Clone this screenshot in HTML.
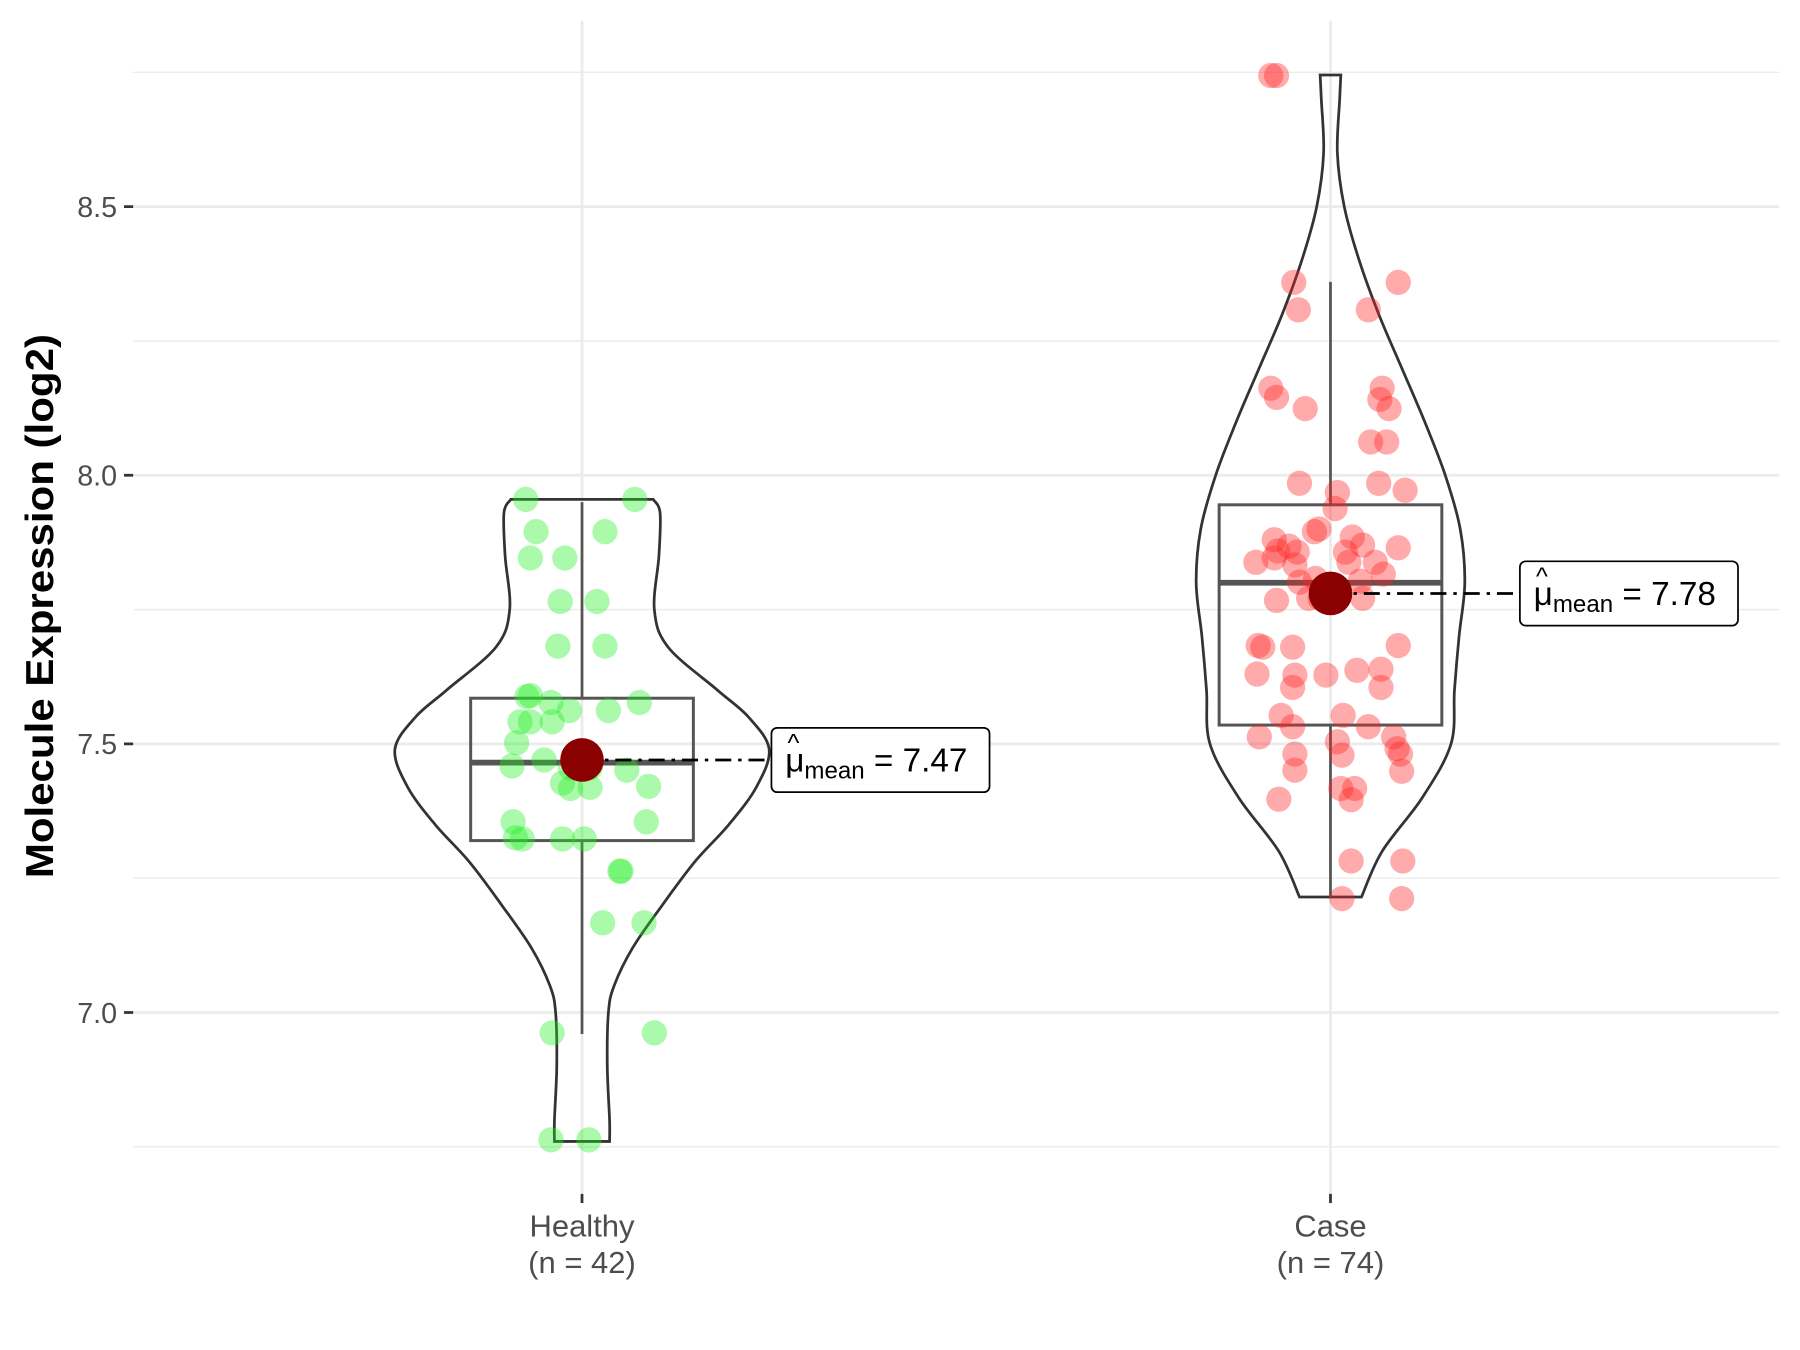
<!DOCTYPE html>
<html><head><meta charset="utf-8"><style>
html,body{margin:0;padding:0;background:#fff;}
svg{display:block;font-family:"Liberation Sans",sans-serif;}
</style></head><body>
<svg id="chart" width="1800" height="1350" viewBox="0 0 1568 1176" preserveAspectRatio="none" xmlns="http://www.w3.org/2000/svg">
<rect width="1568" height="1176" fill="#fff"/>
<g id="grid"></g>
<g id="marks"></g>
<text transform="translate(46,528) rotate(-90)" text-anchor="middle" font-size="34" font-weight="bold" fill="#000" textLength="474" lengthAdjust="spacingAndGlyphs">Molecule Expression (log2)</text>
</svg>
<script>
const categories = ["Healthy", "Case"];
const counts = [42, 74];
const means = [7.47, 7.78];
const yTicks = [7.0, 7.5, 8.0, 8.5];
const yMinor = [6.75, 7.25, 7.75, 8.25, 8.75];
const boxQ1 = [7.32, 7.535];
const boxMed = [7.465, 7.80];
const boxQ3 = [7.585, 7.945];
const whiskLo = [6.96, 7.215];
const whiskHi = [7.95, 8.36];
const healthyViolinY = [7.955,7.93,7.85,7.75,7.68,7.6,7.55,7.49,7.42,7.35,7.28,7.2,7.12,7.05,7.0,6.9,6.8,6.76];
const healthyViolinW = [62,68,67,63,75,118,145,163,152,128,98,70,44,28,23,22,24,24];
const caseViolinY = [8.745,8.7,8.6,8.5,8.4,8.3,8.2,8.1,8.0,7.9,7.8,7.7,7.6,7.5,7.4,7.3,7.215];
const caseViolinW = [9,8,6,12,25,42,62,82,100,113,117,112,108,105,80,45,27];
const healthyVals = [7.955,7.955,7.895,7.895,7.846,7.846,7.765,7.765,7.682,7.682,7.590,7.588,7.577,7.562,7.562,7.577,7.541,7.541,7.541,7.502,7.459,7.470,7.455,7.455,7.451,7.427,7.417,7.419,7.421,7.355,7.325,7.323,7.323,7.323,7.355,7.263,7.263,7.167,7.167,6.962,6.962,6.763,6.763];
const healthyJit = [-49,46,-40,20,-45,-15,-19,13,-21,20,-45,-48,-27,-11,23,50,-54,-45,-26,-57,-61,-33,-10,7,39,-17,-10,7,58,-60,-58,-52,-17,2,56,33,34,18,54,-26,63,-27,6];
const caseVals = [8.744,8.744,8.359,8.359,8.308,8.308,8.162,8.145,8.124,8.162,8.141,8.124,8.062,8.062,7.985,7.985,7.972,7.968,7.938,7.895,7.900,7.870,7.865,7.859,7.868,7.846,7.838,7.833,7.838,7.838,7.801,7.803,7.767,7.771,7.683,7.680,7.680,7.683,7.630,7.628,7.628,7.637,7.639,7.605,7.605,7.553,7.553,7.532,7.532,7.513,7.504,7.513,7.491,7.481,7.479,7.481,7.451,7.449,7.397,7.417,7.417,7.396,7.282,7.282,7.212,7.212,7.771,7.771,7.880,7.885,7.808,7.857,7.857,7.816];
const caseJit = [-52,-47,-32,59,-28,33,-52,-47,-22,45,43,51,35,49,-27,42,65,6,4,-14,-10,28,59,-46,-36,-49,-65,-31,16,39,-27,26,-47,-19,-63,-59,-33,59,-64,-31,-4,23,44,-33,44,-43,11,-33,33,-62,6,55,58,-31,10,61,-31,62,-45,9,21,18,18,63,10,62,-9,28,-49,19,-13,13,-29,46];

const NS="http://www.w3.org/2000/svg";
const X0=116,X1=1550;
function xPos(i){return [507,1159][i];}
function yPos(v){return 414-(v-8)*468;}
const grid=document.getElementById('grid'), marks=document.getElementById('marks');
function mk(tag,attrs,parent){const e=document.createElementNS(NS,tag);for(const k in attrs)e.setAttribute(k,attrs[k]);parent.appendChild(e);return e;}

yMinor.forEach(v=>{const l=mk('line',{x1:X0,x2:X1,y1:yPos(v),y2:yPos(v),stroke:'#ebebeb','stroke-width':1.2},grid);

});
yTicks.forEach(v=>{const l=mk('line',{x1:X0,x2:X1,y1:yPos(v),y2:yPos(v),stroke:'#ebebeb','stroke-width':2.4},grid);


const t=mk('line',{x1:108,x2:116,y1:yPos(v),y2:yPos(v),stroke:'#333','stroke-width':2.4},grid);


const tx=mk('text',{x:102,y:yPos(v)+9,'text-anchor':'end','font-size':25,fill:'#4d4d4d'},grid);tx.textContent=v.toFixed(1);

});
categories.forEach((c,i)=>{const x=xPos(i);
const l=mk('line',{x1:x,x2:x,y1:18,y2:1040,stroke:'#ebebeb','stroke-width':2.4},grid);


const t=mk('line',{x1:x,x2:x,y1:1040,y2:1048,stroke:'#333','stroke-width':2.4},grid);


const a=mk('text',{x:x,y:1077,'text-anchor':'middle','font-size':27,fill:'#4d4d4d'},grid);a.textContent=c;


const b=mk('text',{x:x,y:1109,'text-anchor':'middle','font-size':27,fill:'#4d4d4d'},grid);b.textContent='(n = '+counts[i]+')';

});

function violin(i,ys,ws){const x=xPos(i);let pts=[];
for(let k=0;k<ys.length;k++)pts.push([x+ws[k],yPos(ys[k])]);
for(let k=ys.length-1;k>=0;k--)pts.push([x-ws[k],yPos(ys[k])]);
let d='M'+pts[0][0]+','+pts[0][1];
const n=ys.length;
function seg(a,b,c,e){return ' C'+(b[0]+(c[0]-a[0])/6)+','+(b[1]+(c[1]-a[1])/6)+' '+(c[0]-(e[0]-b[0])/6)+','+(c[1]-(e[1]-b[1])/6)+' '+c[0]+','+c[1];}
for(let k=0;k<n-1;k++)d+=seg(pts[Math.max(k-1,0)],pts[k],pts[k+1],pts[Math.min(k+2,n-1)]);
d+=' L'+pts[n][0]+','+pts[n][1];
for(let k=n;k<2*n-1;k++)d+=seg(pts[Math.max(k-1,n)],pts[k],pts[k+1],pts[Math.min(k+2,2*n-1)]);
d+=' Z';
const p=mk('path',{d:d,fill:'none',stroke:'#333','stroke-width':2.4},marks);

}
violin(0,healthyViolinY,healthyViolinW);
violin(1,caseViolinY,caseViolinW);

categories.forEach((c,i)=>{const x=xPos(i),hw=97;
const w1=mk('line',{x1:x,x2:x,y1:yPos(whiskHi[i]),y2:yPos(boxQ3[i]),stroke:'#555','stroke-width':2.4},marks);


const w2=mk('line',{x1:x,x2:x,y1:yPos(boxQ1[i]),y2:yPos(whiskLo[i]),stroke:'#555','stroke-width':2.4},marks);


const r=mk('rect',{x:x-hw,y:yPos(boxQ3[i]),width:2*hw,height:yPos(boxQ1[i])-yPos(boxQ3[i]),fill:'none',stroke:'#555','stroke-width':2.6},marks);


const m=mk('line',{x1:x-hw,x2:x+hw,y1:yPos(boxMed[i]),y2:yPos(boxMed[i]),stroke:'#555','stroke-width':5},marks);

});

function pts(i,vals,jit,col){vals.forEach((v,k)=>{const c=mk('circle',{cx:xPos(i)+jit[k],cy:yPos(v),r:11,fill:col,'fill-opacity':0.38},marks);

});}
pts(0,healthyVals,healthyJit,'#22ee22');
pts(1,caseVals,caseJit,'#ff2222');

const lblX=[672,1324];
means.forEach((mv,i)=>{const x=xPos(i),y=yPos(mv);
const l=mk('line',{x1:x,x2:lblX[i],y1:y,y2:y,stroke:'#000','stroke-width':2.4,'stroke-dasharray':'14,6,3,6'},marks);


const d=mk('circle',{cx:x,cy:y,r:19,fill:'#8b0000'},marks);


const g=mk('g',{},marks);


mk('rect',{x:lblX[i],y:y-28,width:190,height:56,rx:5,fill:'#fff',stroke:'#000','stroke-width':1.5},g);
const t=mk('text',{x:lblX[i]+12,y:y+10,'font-size':29,fill:'#000'},g);
t.innerHTML='μ<tspan font-size="21" dy="6">mean</tspan><tspan dy="-6"> = '+mv.toFixed(2)+'</tspan>';
const h=mk('text',{x:lblX[i]+14,y:y-8,'font-size':22,fill:'#000'},g);h.textContent='^';});
</script>
</body></html>
